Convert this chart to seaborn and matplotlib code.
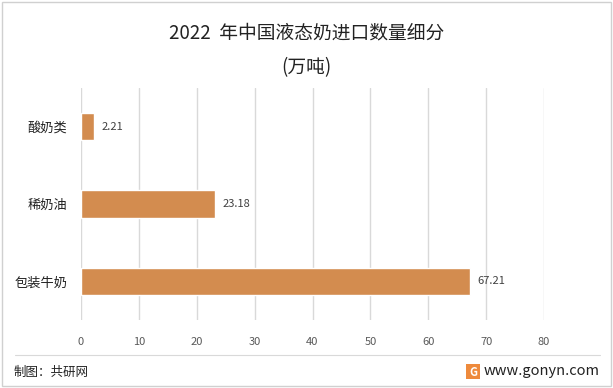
import matplotlib.pyplot as plt
import seaborn as sns
import pandas as pd
from matplotlib.patches import Rectangle
from matplotlib.lines import Line2D

categories = ["酸奶类", "稀奶油", "包装牛奶"]
values = [2.21, 23.18, 67.21]
x_ticks = [0, 10, 20, 30, 40, 50, 60, 70, 80]

sns.set_style("white")
plt.rcParams["font.family"] = ["Noto Sans CJK SC", "DejaVu Sans"]

df = pd.DataFrame({"category": categories, "value": values})

fig = plt.figure(figsize=(6.13, 3.88), dpi=100)
ax = fig.add_axes([81 / 613, 1 - 320 / 388, (544 - 81) / 613, (320 - 88) / 388])

sns.barplot(data=df, x="value", y="category", orient="h", color="#D38C4F",
            saturation=1, width=0.35, ax=ax)

ax.set_xlim(0, 80)
ax.set_ylim(2.5, -0.5)
ax.set_xticks(x_ticks)
ax.set_xticklabels([str(t) for t in x_ticks], color="#595959", fontsize=8)
ax.tick_params(axis="x", length=0, pad=12)
ax.tick_params(axis="y", length=0, pad=10, labelsize=9.5, labelcolor="#222222")
ax.grid(axis="x", color="#D9D9D9", linewidth=1)
ax.set_axisbelow(True)
for s in ax.spines.values():
    s.set_visible(False)
ax.set_xlabel("")
ax.set_ylabel("")

for i, v in enumerate(values):
    ax.text(v + 1.3, i, f"{v:.2f}", va="center", ha="left", fontsize=8, color="#404040")

fig.text(0.5, 1 - 33 / 388, "2022  年中国液态奶进口数量细分", ha="center", va="center",
         fontsize=13.5, color="#222222")
fig.text(0.5, 1 - 68 / 388, "(万吨)", ha="center", va="center", fontsize=13.5, color="#222222")

# footer
fig.add_artist(Line2D([15 / 613, 600 / 613], [1 - 355 / 388] * 2, color="#D9D9D9", linewidth=0.8))
fig.text(14 / 613, 1 - 372 / 388, "制图：共研网", ha="left", va="center", fontsize=9, color="#222222")
fig.text(600 / 613, 1 - 371 / 388, "www.gonyn.com", ha="right", va="center", fontsize=10.5, color="#222222")
fig.add_artist(Rectangle((466 / 613, 1 - 379 / 388), 14 / 613, 15 / 388,
                         facecolor="#EE8A3C", edgecolor="none"))
fig.text(473 / 613, 1 - 372 / 388, "G", ha="center", va="center", fontsize=8,
         color="white", fontweight="bold")

# outer border
fig.add_artist(Rectangle((2 / 613, 2 / 388), 609 / 613, 384 / 388, fill=False,
                         edgecolor="#D0D0D0", linewidth=1))

fig.savefig("out.png", dpi=100)
